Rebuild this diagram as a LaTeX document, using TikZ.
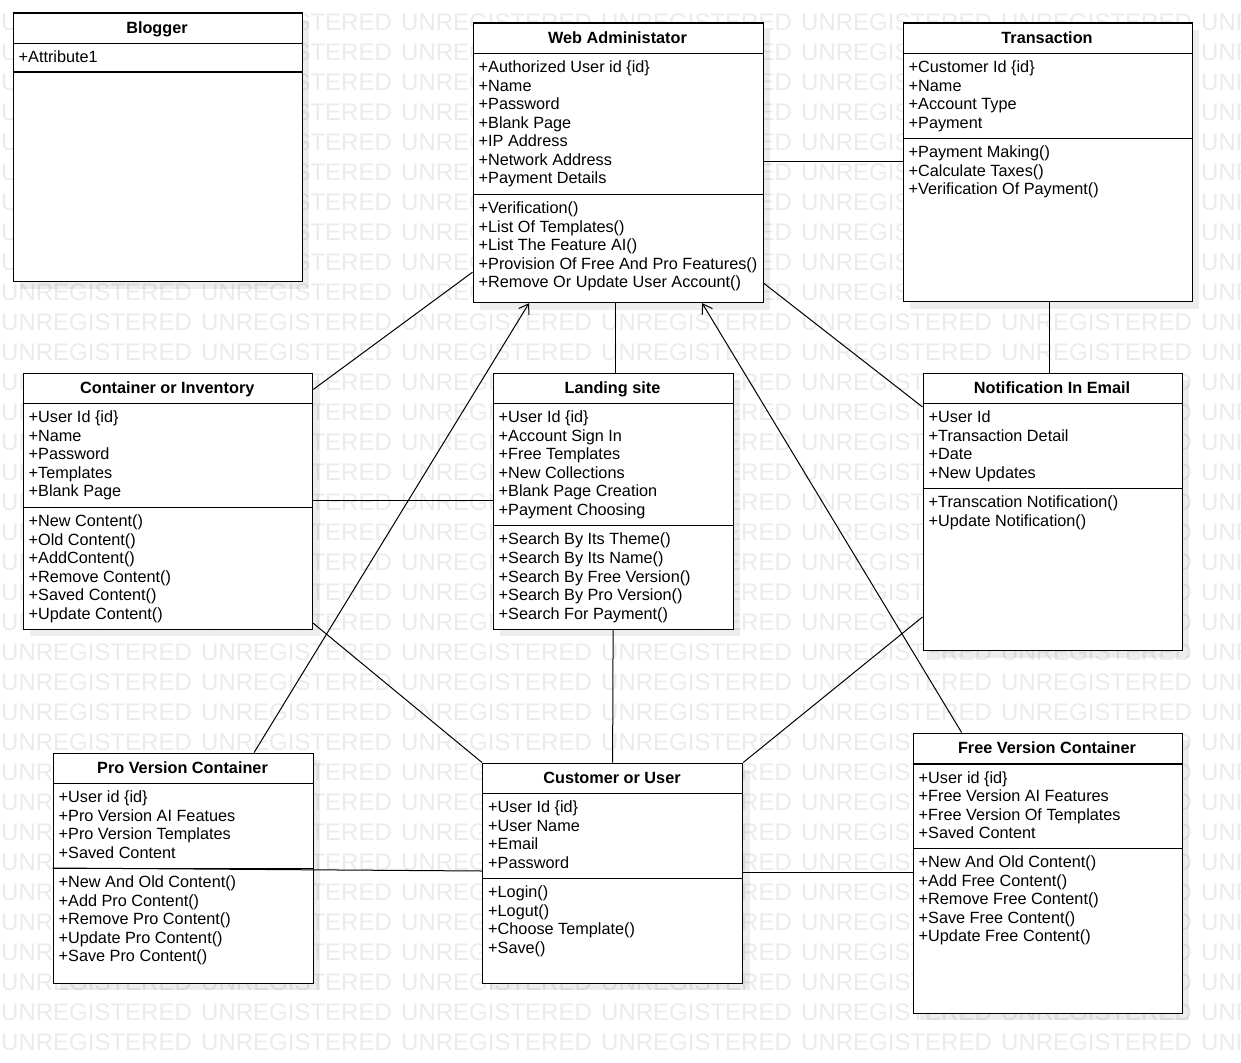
\documentclass[tikz,border=0pt]{standalone}
\usepackage{fontspec}
\setmainfont{Liberation Sans}
\usetikzlibrary{arrows.meta, shadows}

\tikzset{
  classbox/.style = {draw, line width=1.2pt, fill=white, inner sep=0pt, anchor=north west,
    drop shadow={shadow xshift=7pt, shadow yshift=-7pt, opacity=0.07, fill=black}},
  member/.style = {anchor=base west, inner sep=0pt, font=\fontsize{16.25}{18.6}\selectfont},
  classtitle/.style = {anchor=base, inner sep=0pt, font=\fontsize{16.25}{18.6}\selectfont\bfseries},
  sepline/.style = {line width=1.2pt},
  assoc/.style = {line width=1pt},
  navig/.style = {line width=1pt, -{Straight Barb[length=9pt, width=12pt]}},
  watermark/.style = {anchor=base west, inner sep=0pt, text=black!8, font=\fontsize{24}{28}\selectfont}
}

% name, x1, y1, x2, y2, title, first line, second line
\newcommand{\umlclass}[8]{
  \node[classbox, minimum width={#4-#2}, minimum height={#5-#3}] (#1) at (#2,#3) {};
  \draw[sepline] (#2,#7) -- (#4,#7);
  \draw[sepline] (#2,#8) -- (#4,#8);
  \node[classtitle] (#1-title) at ({(#2+#4)/2}, #3+20.8) {#6};
}
% prefix, x, first baseline, list of lines
\newcommand{\members}[4]{
  \foreach \txt [count=\i] in {#4}
    \node[member] (#1-\i) at (#2, {#3+18.55*(\i-1)}) {\txt};
}

\begin{document}
\begin{tikzpicture}[x=1pt, y=-1pt]
\useasboundingbox (0,0) rectangle (1241,1062);
\clip (0,0) rectangle (1241,1062);

\foreach \r in {0,...,34} {
  \foreach \c in {0,...,6} {
    \node[watermark] (wm-\r-\c) at (1+200*\c, 30.5+30*\r) {UNREGISTERED};
  }
}

% classes
\umlclass{blog}{12.5}{12.5}{301.5}{281}{Blogger}{43.5}{72}
\members{blog-a}{18.5}{62.8}{+Attribute1}

\umlclass{web}{472.5}{22.5}{762.5}{302}{Web Administator}{53.3}{194.3}
\members{web-a}{478.5}{72.6}{+Authorized User id \{id\}, +Name, +Password, +Blank Page, +IP Address, +Network Address, +Payment Details}
\members{web-o}{478.5}{213.5}{+Verification(), +List Of Templates(), +List The Feature AI(), +Provision Of Free And Pro Features(), +Remove Or Update User Account()}

\umlclass{trans}{902.5}{22.5}{1191.5}{301}{Transaction}{53.3}{138.3}
\members{trans-a}{908.5}{72.6}{+Customer Id \{id\}, +Name, +Account Type, +Payment}
\members{trans-o}{908.5}{157.5}{+Payment Making(), +Calculate Taxes(), +Verification Of Payment()}

\umlclass{cont}{22.5}{372.5}{312}{628.5}{Container or Inventory}{403.3}{507.5}
\members{cont-a}{28.5}{422.6}{+User Id \{id\}, +Name, +Password, +Templates, +Blank Page}
\members{cont-o}{28.5}{526.7}{+New Content(), +Old Content(), +AddContent(), +Remove Content(), +Saved Content(), +Update Content()}

\umlclass{land}{492.5}{372.5}{732.5}{628.5}{Landing site}{403.3}{525.7}
\members{land-a}{498.5}{422.6}{+User Id \{id\}, +Account Sign In, +Free Templates, +New Collections, +Blank Page Creation, +Payment Choosing}
\members{land-o}{498.5}{544.9}{+Search By Its Theme(), +Search By Its Name(), +Search By Free Version(), +Search By Pro Version(), +Search For Payment()}

\umlclass{notif}{922.5}{372.5}{1181.5}{650}{Notification In Email}{403.3}{488.5}
\members{notif-a}{928.5}{422.6}{+User Id, +Transaction Detail, +Date, +New Updates}
\members{notif-o}{928.5}{507.7}{+Transcation Notification(), +Update Notification()}

\umlclass{pro}{52.5}{752.5}{312.5}{982.5}{Pro Version Container}{783.3}{868.3}
\members{pro-a}{58.5}{802.6}{+User id \{id\}, +Pro Version AI Featues, +Pro Version Templates, +Saved Content}
\members{pro-o}{58.5}{887.5}{+New And Old Content(), +Add Pro Content(), +Remove Pro Content(), +Update Pro Content(), +Save Pro Content()}

\umlclass{cust}{482}{762.5}{742}{982.5}{Customer or User}{793.3}{878.3}
\members{cust-a}{488}{812.6}{+User Id \{id\}, +User Name, +Email, +Password}
\members{cust-o}{488}{897.5}{+Login(), +Logut(), +Choose Template(), +Save()}

\umlclass{free}{912.5}{732.5}{1181.5}{1012.5}{Free Version Container}{764}{848.5}
\members{free-a}{918.5}{783.3}{+User id \{id\}, +Free Version AI Features, +Free Version Of Templates, +Saved Content}
\members{free-o}{918.5}{867.7}{+New And Old Content(), +Add Free Content(), +Remove Free Content(), +Save Free Content(), +Update Free Content()}

% associations
\draw[assoc] ([yshift=-139pt]web.north east) -- ([yshift=-139pt]trans.north west);
\draw[assoc] ([xshift=2pt]trans.south) -- ([xshift=-3pt]notif.north);
\draw[assoc] ([xshift=-3pt]web.south) -- ([xshift=2pt]land.north);
\draw[assoc] ([yshift=31pt]web.south west) -- ([yshift=-17pt]cont.north east);
\draw[assoc] ([yshift=20pt]web.south east) -- ([yshift=-34.5pt]notif.north west);
\draw[assoc] ([yshift=-127.5pt]cont.north east) -- ([yshift=-127.5pt]land.north west);
\draw[assoc] (land.south) -- (cust.north);
\draw[assoc] ([yshift=6.5pt]cont.south east) -- (cust.north west);
\draw[assoc] ([yshift=-244.5pt]notif.north west) -- (cust.north east);
\draw[assoc] ([yshift=-115.5pt]pro.north west) -- ([yshift=-108.5pt]cust.north west);
\draw[assoc] ([yshift=-110pt]cust.north east) -- ([yshift=-140pt]free.north west);

% navigable
\draw[navig] ([xshift=71pt]pro.north) -- ([xshift=56.5pt]web.south west);
\draw[navig] ([xshift=-86pt]free.north) -- ([xshift=-61.5pt]web.south east);
\end{tikzpicture}
\end{document}
